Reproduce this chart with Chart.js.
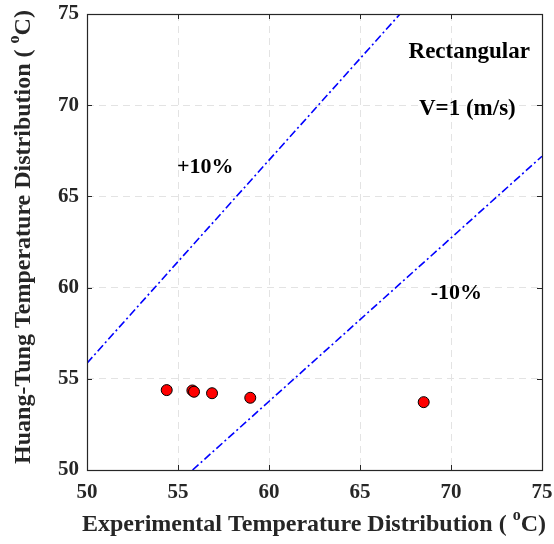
<!DOCTYPE html>
<html>
<head>
<meta charset="utf-8">
<script src="https://cdn.jsdelivr.net/npm/chart.js@4"></script>
<style>
  html, body { margin: 0; padding: 0; background: #fff; }
  #wrap { width: 554px; height: 544px; }
</style>
</head>
<body>
<div id="wrap"><canvas id="chart"></canvas></div>
<script>
// Measured vs. predicted temperatures
const expTemp = [54.38, 55.79, 55.88, 56.87, 58.97, 68.5];
const htTemp = [54.38, 54.36, 54.29, 54.21, 53.96, 53.72];

// +/-10% deviation bands (end points)
const plusBandX = [50, 67.2];
const plusBandY = [55.86, 75];
const minusBandX = [55.8, 75];
const minusBandY = [50, 67.2];

const tickValues = [50, 55, 60, 65, 70, 75];

// text labels placed in data coordinates
const notes = [
  { text: '+10%', x: 56.5, y: 66.6, size: 22 },
  { text: '-10%', x: 70.3, y: 59.7, size: 22 },
  { text: 'Rectangular', x: 71.0, y: 72.9, size: 23 },
  { text: 'V=1 (m/s)', x: 70.9, y: 69.8, size: 23 }
];

const FONT = '"Liberation Serif", "Times New Roman", serif';
const INK = '#262626';

function toXY(xs, ys) {
  return xs.map((x, i) => ({ x: x, y: ys[i] }));
}

// draws the box, inward ticks, annotations and axis titles
const decorations = {
  id: 'decorations',
  afterDraw(chart) {
    const ctx = chart.ctx;
    const a = chart.chartArea;
    const sx = chart.scales.x, sy = chart.scales.y;
    ctx.save();

    ctx.strokeStyle = INK;
    ctx.lineWidth = 1.2;
    ctx.strokeRect(a.left + 0.5, a.top + 0.5, a.right - a.left, a.bottom - a.top);

    const tl = 5;
    ctx.lineWidth = 1;
    ctx.beginPath();
    tickValues.forEach(v => {
      const px = Math.round(sx.getPixelForValue(v)) + 0.5;
      ctx.moveTo(px, a.bottom); ctx.lineTo(px, a.bottom - tl);
      ctx.moveTo(px, a.top); ctx.lineTo(px, a.top + tl);
      const py = Math.round(sy.getPixelForValue(v)) + 0.5;
      ctx.moveTo(a.left, py); ctx.lineTo(a.left + tl, py);
      ctx.moveTo(a.right, py); ctx.lineTo(a.right - tl, py);
    });
    ctx.stroke();

    ctx.fillStyle = '#000';
    ctx.textAlign = 'center';
    ctx.textBaseline = 'middle';
    notes.forEach(n => {
      ctx.font = 'bold ' + n.size + 'px ' + FONT;
      ctx.fillText(n.text, sx.getPixelForValue(n.x), sy.getPixelForValue(n.y));
    });

    // axis title with superscript degree mark
    function title(main, cx, cy, rot) {
      ctx.save();
      ctx.translate(cx, cy);
      ctx.rotate(rot);
      ctx.fillStyle = INK;
      ctx.textBaseline = 'alphabetic';
      ctx.textAlign = 'left';
      const big = 'bold 24px ' + FONT;
      const small = 'bold 16px ' + FONT;
      ctx.font = big;
      const w1 = ctx.measureText(main + ' ( ').width;
      const w3 = ctx.measureText('C)').width;
      ctx.font = small;
      const w2 = ctx.measureText('o').width;
      let x = -(w1 + w2 + w3) / 2;
      ctx.font = big;
      ctx.fillText(main + ' ( ', x, 8);
      x += w1;
      ctx.font = small;
      ctx.fillText('o', x, -3);
      x += w2;
      ctx.font = big;
      ctx.fillText('C)', x, 8);
      ctx.restore();
    }
    title('Experimental Temperature Distribution', 314, 523, 0);
    title('Huang-Tung Temperature Distribution', 22, 237, -Math.PI / 2);

    ctx.restore();
  }
};

const gridOpts = {
  color: '#e3e3e3',
  lineWidth: 1,
  drawTicks: false
};

const tickFont = { family: FONT, size: 21, weight: 'bold' };

new Chart(document.getElementById('chart'), {
  type: 'scatter',
  data: {
    datasets: [
      {
        label: 'points',
        data: toXY(expTemp, htTemp),
        backgroundColor: '#ff0000',
        borderColor: '#000',
        borderWidth: 1,
        pointRadius: 5.5,
        order: 0
      },
      {
        label: '+10%',
        data: toXY(plusBandX, plusBandY),
        showLine: true,
        borderColor: '#0000ff',
        borderWidth: 1.6,
        borderDash: [8, 3, 2, 3],
        pointRadius: 0,
        order: 1
      },
      {
        label: '-10%',
        data: toXY(minusBandX, minusBandY),
        showLine: true,
        borderColor: '#0000ff',
        borderWidth: 1.6,
        borderDash: [8, 3, 2, 3],
        pointRadius: 0,
        order: 1
      }
    ]
  },
  options: {
    responsive: true,
    maintainAspectRatio: false,
    animation: false,
    layout: { padding: { top: 14, right: 12, left: 0, bottom: 0 } },
    plugins: {
      legend: { display: false },
      tooltip: { enabled: false }
    },
    scales: {
      x: {
        type: 'linear',
        min: 50,
        max: 75,
        afterBuildTicks: s => { s.ticks = tickValues.map(v => ({ value: v })); },
        afterFit: s => { s.height = 74; s.paddingLeft = 0; s.paddingRight = 0; },
        grid: gridOpts,
        border: { display: false, dash: [7, 5] },
        ticks: { padding: 10, color: INK, font: tickFont }
      },
      y: {
        type: 'linear',
        min: 50,
        max: 75,
        afterBuildTicks: s => { s.ticks = tickValues.map(v => ({ value: v })); },
        afterFit: s => { s.width = 87; s.paddingTop = 0; s.paddingBottom = 0; },
        grid: gridOpts,
        border: { display: false, dash: [7, 5] },
        ticks: { padding: 8, color: INK, font: tickFont }
      }
    }
  },
  plugins: [decorations]
});
</script>
</body>
</html>
